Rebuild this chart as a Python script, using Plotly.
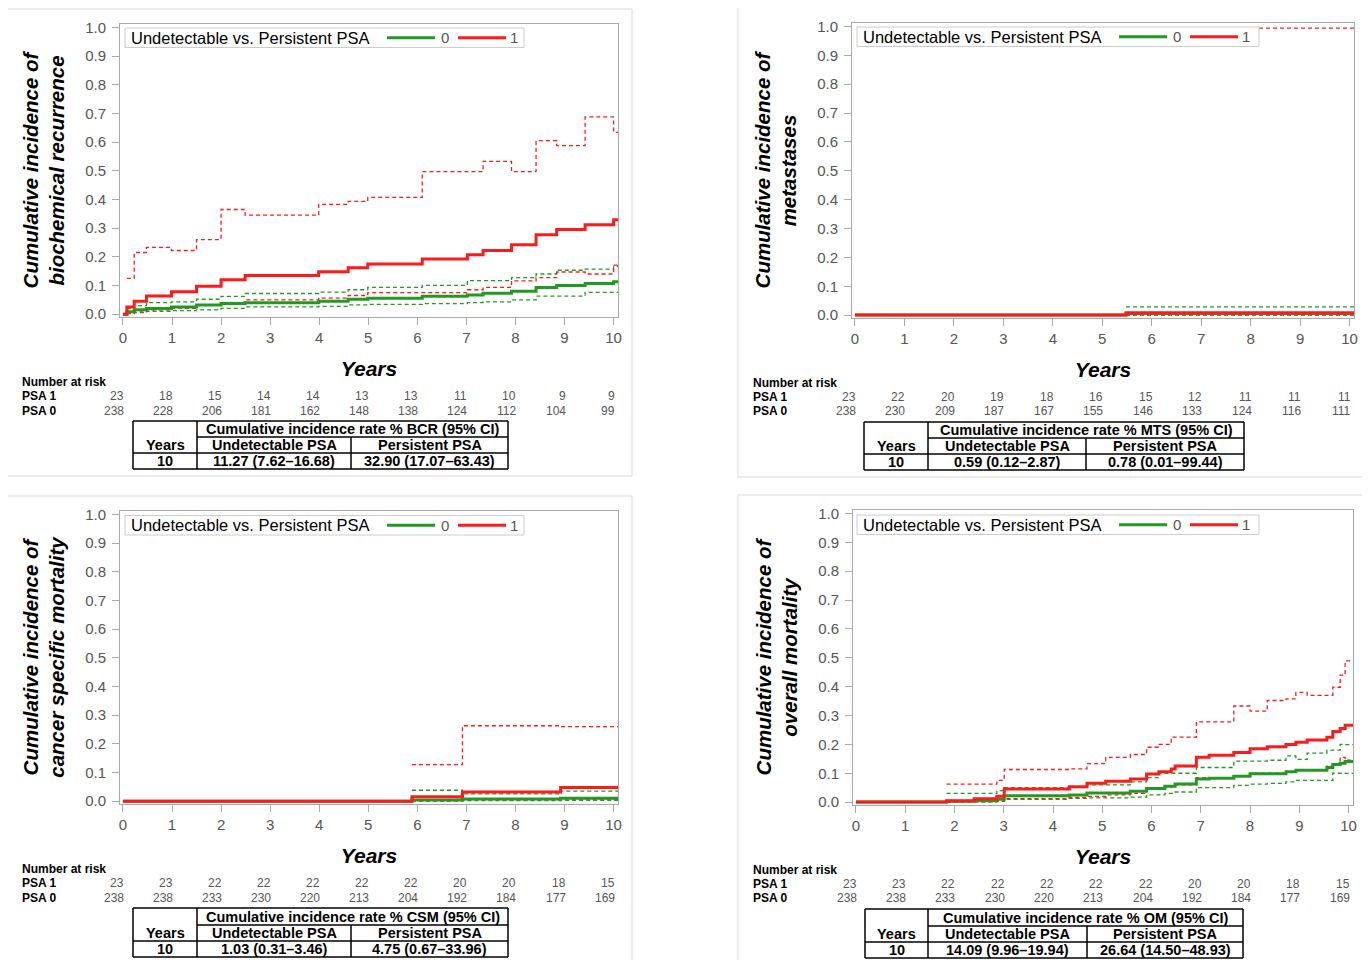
import plotly.graph_objects as go

# The page body adds an 8px margin, so the figure is sized to fill the rest of the window
OFF = 8
W, H = 1370 - OFF, 960 - OFF
FONT = "Liberation Sans, Arial, sans-serif"
GREEN = "#229922"
RED = "#ff1a1a"


def px(x):
    return (x - OFF) / W


def py(y):
    return 1 - (y - OFF) / H


# ---------------- data ----------------
# Biochemical recurrence (BCR)
bcr_t = [0, 0.08, 0.23, 0.48, 0.99, 1.50, 2.00, 2.49, 3.99, 4.59, 4.99, 6.10, 7.02, 7.34, 7.92, 8.42, 8.84, 9.42, 10.0, 10.09]
bcr_red = [0, 0.025, 0.045, 0.063, 0.078, 0.097, 0.12, 0.135, 0.148, 0.162, 0.175, 0.192, 0.207, 0.222, 0.242, 0.277, 0.295, 0.312, 0.329, 0.329]
bcr_red_hi = [None, 0.125, 0.215, 0.233, 0.222, 0.26, 0.365, 0.345, 0.383, 0.393, 0.407, 0.497, 0.497, 0.533, 0.497, 0.605, 0.588, 0.688, 0.634, 0.634]
bcr_red_lo = [None, 0.003, 0.008, 0.015, 0.02, 0.032, 0.04, 0.05, 0.056, 0.065, 0.075, 0.075, 0.085, 0.093, 0.116, 0.127, 0.147, 0.14, 0.171, 0.171]
bcr_green = [0, 0.008, 0.015, 0.02, 0.025, 0.032, 0.037, 0.04, 0.045, 0.052, 0.055, 0.062, 0.067, 0.073, 0.08, 0.093, 0.1, 0.107, 0.113, 0.113]
bcr_green_hi = [None, 0.02, 0.03, 0.04, 0.043, 0.052, 0.062, 0.072, 0.077, 0.085, 0.093, 0.1, 0.117, 0.117, 0.127, 0.14, 0.153, 0.157, 0.167, 0.167]
bcr_green_lo = [None, 0.002, 0.005, 0.01, 0.012, 0.015, 0.02, 0.025, 0.027, 0.032, 0.034, 0.037, 0.04, 0.043, 0.05, 0.063, 0.063, 0.076, 0.076, 0.076]

# Metastases (MTS)
mts_t = [0, 5.48, 10.09]
mts_red = [0, 0.0078, 0.0078]
mts_red_hi = [None, 0.994, 0.994]
mts_red_lo = [None, 0.0001, 0.0001]
mts_green = [0, 0.0059, 0.0059]
mts_green_hi = [None, 0.0287, 0.0287]
mts_green_lo = [None, 0.0012, 0.0012]

# Cancer specific mortality (CSM)
csm_t = [0, 5.89, 6.92, 8.92, 10.09]
csm_red = [0, 0.015, 0.032, 0.0475, 0.0475]
csm_red_hi = [None, 0.127, 0.263, 0.26, 0.26]
csm_red_lo = [None, 0.002, 0.005, 0.0067, 0.0067]
csm_green = [0, 0.004, 0.0075, 0.0103, 0.0103]
csm_green_hi = [None, 0.038, 0.025, 0.035, 0.035]
csm_green_lo = [None, 0.0005, 0.0018, 0.0031, 0.0031]

# Overall mortality (OM)
om_t = [0, 1.84, 2.40, 2.86, 3.01, 4.33, 4.69, 5.07, 5.57, 5.90, 6.15, 6.27, 6.40, 6.48, 6.91, 7.17, 7.67, 8.00, 8.35, 8.73, 8.93, 9.16, 9.56, 9.68, 9.83, 9.93, 10.09]
om_red = [0, 0.005, 0.012, 0.02, 0.045, 0.053, 0.065, 0.072, 0.08, 0.097, 0.105, 0.105, 0.115, 0.125, 0.155, 0.162, 0.172, 0.185, 0.192, 0.2, 0.207, 0.215, 0.225, 0.245, 0.255, 0.266, 0.266]
om_red_hi = [None, 0.062, 0.062, 0.075, 0.113, 0.115, 0.133, 0.155, 0.165, 0.19, 0.2, 0.2, 0.225, 0.225, 0.278, 0.278, 0.333, 0.315, 0.352, 0.358, 0.38, 0.37, 0.37, 0.398, 0.44, 0.489, 0.489]
om_red_lo = [None, 0.0007, 0.002, 0.004, 0.012, 0.016, 0.02, 0.025, 0.03, 0.045, 0.05, 0.05, 0.055, 0.06, 0.085, 0.085, 0.09, 0.1, 0.1, 0.105, 0.11, 0.11, 0.125, 0.13, 0.155, 0.145, 0.145]
om_green = [0, 0.003, 0.005, 0.01, 0.022, 0.025, 0.032, 0.032, 0.038, 0.047, 0.047, 0.055, 0.055, 0.063, 0.08, 0.083, 0.09, 0.098, 0.098, 0.105, 0.11, 0.11, 0.12, 0.13, 0.135, 0.141, 0.141]
om_green_hi = [None, 0.03, 0.03, 0.04, 0.05, 0.05, 0.06, 0.06, 0.07, 0.085, 0.1, 0.1, 0.1, 0.1, 0.12, 0.12, 0.142, 0.142, 0.145, 0.16, 0.148, 0.17, 0.18, 0.18, 0.2, 0.199, 0.199]
om_green_lo = [None, 0.0, 0.001, 0.003, 0.01, 0.013, 0.015, 0.015, 0.017, 0.025, 0.025, 0.03, 0.03, 0.035, 0.05, 0.05, 0.058, 0.062, 0.065, 0.07, 0.075, 0.075, 0.075, 0.1, 0.1, 0.0996, 0.0996]

# Number at risk
risk_years = [0, 1, 2, 3, 4, 5, 6, 7, 8, 9, 10]
bcr_psa1 = [23, 18, 15, 14, 14, 13, 13, 11, 10, 9, 9]
bcr_psa0 = [238, 228, 206, 181, 162, 148, 138, 124, 112, 104, 99]
mts_psa1 = [23, 22, 20, 19, 18, 16, 15, 12, 11, 11, 11]
mts_psa0 = [238, 230, 209, 187, 167, 155, 146, 133, 124, 116, 111]
csm_psa1 = [23, 23, 22, 22, 22, 22, 22, 20, 20, 18, 15]
csm_psa0 = [238, 238, 233, 230, 220, 213, 204, 192, 184, 177, 169]
om_psa1 = [23, 23, 22, 22, 22, 22, 22, 20, 20, 18, 15]
om_psa0 = [238, 238, 233, 230, 220, 213, 204, 192, 184, 177, 169]

# Summary tables
endpoint_codes = ["BCR", "MTS", "CSM", "OM"]
rate_undetectable = ["11.27 (7.62–16.68)", "0.59 (0.12–2.87)", "1.03 (0.31–3.46)", "14.09 (9.96–19.94)"]
rate_persistent = ["32.90 (17.07–63.43)", "0.78 (0.01–99.44)", "4.75 (0.67–33.96)", "26.64 (14.50–48.93)"]
y_titles = [
    "Cumulative incidence of<br>biochemical recurrence",
    "Cumulative incidence of<br>metastases",
    "Cumulative incidence of<br>cancer specific mortality",
    "Cumulative incidence of<br>overall mortality",
]
x_ticks = [0, 1, 2, 3, 4, 5, 6, 7, 8, 9, 10]
y_ticks = [0.0, 0.1, 0.2, 0.3, 0.4, 0.5, 0.6, 0.7, 0.8, 0.9, 1.0]
legend_title = "Undetectable vs. Persistent PSA"
group_names = ["0", "1"]

series = [
    (bcr_t, bcr_green, bcr_green_lo, bcr_green_hi, bcr_red, bcr_red_lo, bcr_red_hi, bcr_psa1, bcr_psa0),
    (mts_t, mts_green, mts_green_lo, mts_green_hi, mts_red, mts_red_lo, mts_red_hi, mts_psa1, mts_psa0),
    (csm_t, csm_green, csm_green_lo, csm_green_hi, csm_red, csm_red_lo, csm_red_hi, csm_psa1, csm_psa0),
    (om_t, om_green, om_green_lo, om_green_hi, om_red, om_red_lo, om_red_hi, om_psa1, om_psa0),
]

# ---------------- layout geometry (pixels of the 1370x960 window) ----------------
panels = [
    dict(frame=(120, 24, 618, 317), outer=(7.5, 9, 632, 476), risk=(382, 396, 411), lab=20,
         cols=(133, 197, 351, 508), rows=(421, 437, 453, 469), leg=(125, 28, 524)),
    dict(frame=(852, 23, 1354, 318), outer=(738, 7, 1366, 477), risk=(383, 397, 411), lab=751,
         cols=(864, 928, 1086, 1244), rows=(422, 438, 454, 470), leg=(857, 27, 1259)),
    dict(frame=(120, 511, 618, 804), outer=(7.5, 496, 632, 975), risk=(869, 883, 898), lab=20,
         cols=(133, 197, 351, 508), rows=(908, 925, 941, 957), leg=(125, 515.5, 524)),
    dict(frame=(853, 510, 1353, 805), outer=(738, 495, 1366, 975), risk=(870, 884, 898), lab=751,
         cols=(865, 928, 1087, 1243), rows=(909, 926, 942, 958), leg=(857, 515, 1259)),
]

fig = go.Figure()
shapes = []
annotations = []
layout = {}

for i, (p, s) in enumerate(zip(panels, series)):
    n = "" if i == 0 else str(i + 1)
    xa, ya = "x" + n, "y" + n
    t, g, glo, ghi, r, rlo, rhi, psa1, psa0 = s

    for vals, col in [(glo, GREEN), (ghi, GREEN), (rlo, RED), (rhi, RED)]:
        fig.add_trace(go.Scatter(x=t, y=vals, mode="lines", line=dict(color=col, width=1.3, dash="4px,3px", shape="hv"),
                                 xaxis=xa, yaxis=ya, showlegend=False, hoverinfo="skip", connectgaps=False))
    for vals, col, name in [(g, GREEN, group_names[0]), (r, RED, group_names[1])]:
        fig.add_trace(go.Scatter(x=t, y=vals, mode="lines", name=name, line=dict(color=col, width=3, shape="hv"),
                                 xaxis=xa, yaxis=ya, showlegend=False))

    x0, y0, x1, y1 = p["frame"]
    axis_common = dict(showline=True, mirror=True, linecolor="#a9a9a9", linewidth=1, ticks="outside",
                       tickcolor="#a9a9a9", ticklen=7, tickfont=dict(family=FONT, size=15, color="#555555"),
                       showgrid=False, zeroline=False, automargin=False)
    layout["xaxis" + n] = dict(domain=[px(x0), px(x1)], anchor=ya, range=[-0.06, 10.09], tickvals=x_ticks,
                               title=dict(text="Years", standoff=16,
                                          font=dict(family=FONT, size=21, color="black", weight="bold", style="italic")),
                               **axis_common)
    layout["yaxis" + n] = dict(domain=[py(y1), py(y0)], anchor=xa, range=[-0.01, 1.012], tickvals=y_ticks,
                               tickformat=".1f", ticklabelstandoff=3,
                               title=dict(text=y_titles[i], standoff=14,
                                          font=dict(family=FONT, size=20.5, color="black", weight="bold", style="italic")),
                               **axis_common)

    # legend box (drawn in the panel's top-left corner)
    lx, ly, lx1 = p["leg"]
    lh = 19.5
    lc = ly + lh / 2
    shapes.append(dict(type="rect", xref="paper", yref="paper", x0=px(lx), x1=px(lx1), y0=py(ly + lh), y1=py(ly),
                       line=dict(color="#cccccc", width=1), fillcolor="white"))
    annotations.append(dict(x=px(lx + 4), y=py(lc), xref="paper", yref="paper", text=legend_title, showarrow=False,
                            xanchor="left", yanchor="middle", font=dict(family=FONT, size=16.5, color="black")))
    for (a0, a1, tx), col, name in [((262, 310, 320), GREEN, group_names[0]), ((333, 381, 389), RED, group_names[1])]:
        shapes.append(dict(type="line", xref="paper", yref="paper", x0=px(lx + a0), x1=px(lx + a1), y0=py(lc), y1=py(lc),
                           line=dict(color=col, width=3)))
        annotations.append(dict(x=px(lx + tx), y=py(lc), xref="paper", yref="paper", text=name, showarrow=False,
                                xanchor="center", yanchor="middle", font=dict(family=FONT, size=15, color="#555555")))

    # outer panel box
    ox0, oy0, ox1, oy1 = p["outer"]
    shapes.append(dict(type="rect", xref="paper", yref="paper", x0=px(ox0), x1=px(ox1), y0=py(oy1), y1=py(oy0),
                       line=dict(color="#d9d9d9", width=1), layer="below"))

    # number at risk
    ry_nar, ry1, ry0 = p["risk"]
    lab_font = dict(family=FONT, size=12, color="black")
    for txt, yy in [("<b>Number at risk</b>", ry_nar), ("<b>PSA 1</b>", ry1), ("<b>PSA 0</b>", ry0)]:
        annotations.append(dict(x=px(p["lab"]), y=py(yy), xref="paper", yref="paper", text=txt, showarrow=False,
                                xanchor="left", yanchor="middle", font=lab_font))
    for yr, a, b in zip(risk_years, psa1, psa0):
        for val, yy in [(a, ry1), (b, ry0)]:
            annotations.append(dict(x=yr, xref=xa, y=py(yy), yref="paper", text=str(val), showarrow=False,
                                    xanchor="right", yanchor="middle", xshift=3,
                                    font=dict(family=FONT, size=12, color="#555555")))

    # summary table
    c0, c1, c2, c3 = p["cols"]
    r0, r1, r2, r3 = p["rows"]
    ln = dict(color="black", width=1.5)

    def seg(xa0, ya0, xa1, ya1):
        shapes.append(dict(type="line", xref="paper", yref="paper", x0=px(xa0), y0=py(ya0), x1=px(xa1), y1=py(ya1), line=ln))

    seg(c0, r0, c3, r0)
    seg(c0, r3, c3, r3)
    seg(c0, r0, c0, r3)
    seg(c3, r0, c3, r3)
    seg(c1, r0, c1, r3)
    seg(c2, r1, c2, r3)
    seg(c1, r1, c3, r1)
    seg(c0, r2, c3, r2)
    tf = dict(family=FONT, size=14.5, color="black")
    cells = [
        ((c1 + c3) / 2, (r0 + r1) / 2, f"Cumulative incidence rate % {endpoint_codes[i]} (95% CI)"),
        ((c0 + c1) / 2, (r1 + r2) / 2, "Years"),
        ((c1 + c2) / 2, (r1 + r2) / 2, "Undetectable PSA"),
        ((c2 + c3) / 2, (r1 + r2) / 2, "Persistent PSA"),
        ((c0 + c1) / 2, (r2 + r3) / 2, "10"),
        ((c1 + c2) / 2, (r2 + r3) / 2, rate_undetectable[i]),
        ((c2 + c3) / 2, (r2 + r3) / 2, rate_persistent[i]),
    ]
    for cx, cy, txt in cells:
        annotations.append(dict(x=px(cx), y=py(cy), xref="paper", yref="paper", text=f"<b>{txt}</b>",
                                showarrow=False, xanchor="center", yanchor="middle", font=tf))

fig.update_layout(
    width=W, height=H, margin=dict(l=0, r=0, t=0, b=0),
    paper_bgcolor="white", plot_bgcolor="white",
    font=dict(family=FONT),
    showlegend=False,
    shapes=shapes, annotations=annotations,
    **layout,
)

fig.write_html("out.html")
